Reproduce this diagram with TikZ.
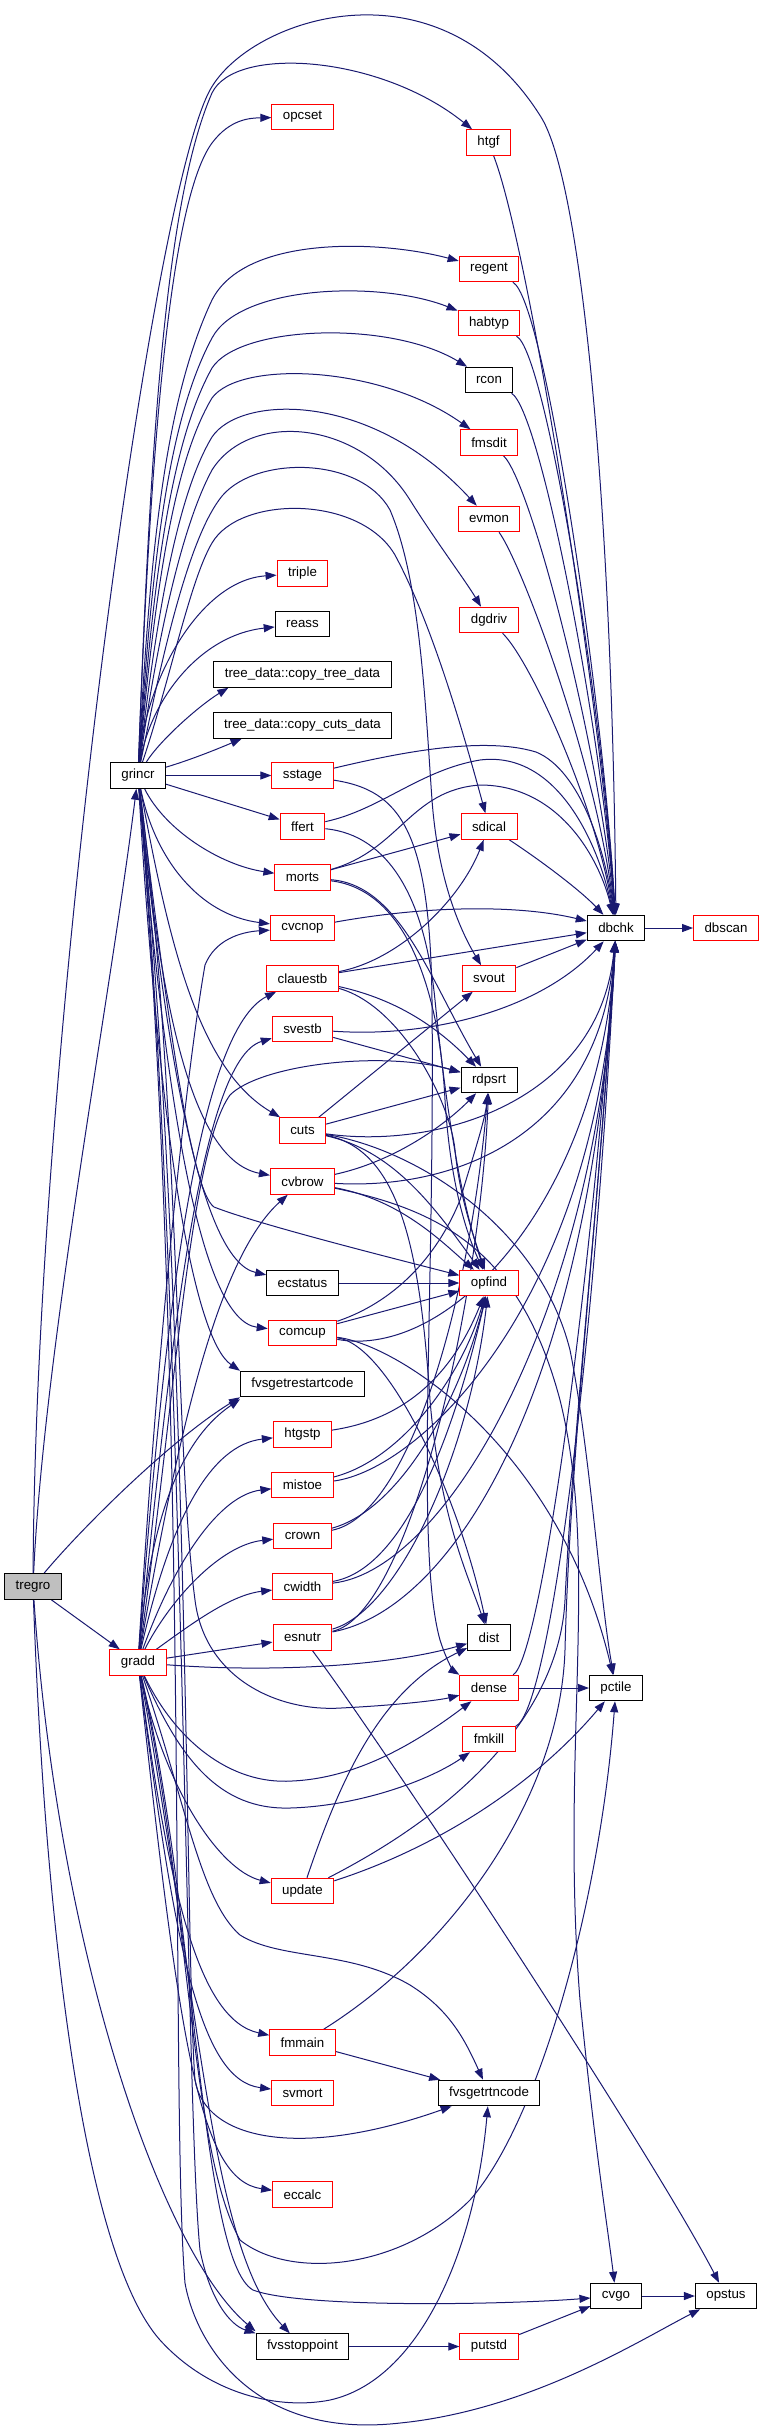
\documentclass[tikz,border=0pt]{standalone}
\usepackage{fontspec}
\setmainfont{Liberation Sans}
\usetikzlibrary{arrows.meta}
\definecolor{edgec}{RGB}{25,25,112}
\definecolor{boxgrey}{RGB}{191,191,191}
\pgfdeclarelayer{bg}
\pgfsetlayers{bg,main}
\tikzset{
  nb/.style={draw, line width=1pt, fill=white, minimum height=25.5pt, inner xsep=11pt, inner ysep=0pt, font=\fontsize{13.3}{15}\selectfont},
  rb/.style={nb, draw=red},
  kb/.style={nb, draw=black},
  e/.style={draw=edgec, line width=1pt, -{Triangle[length=11pt,width=8pt]}},
}
\begin{document}
\begin{tikzpicture}[x=1pt,y=-1pt]
\path[use as bounding box] (0,0) rectangle (760,2431);
% column 0/1
\node[kb, fill=boxgrey] (tregro) at (33,1586.5) {tregro};
\node[kb] (grincr) at (138,775.5) {grincr};
\node[rb] (gradd) at (138,1662.5) {gradd};
% column 2
\node[rb] (opcset) at (302.5,117) {opcset};
\node[rb] (triple) at (302.5,573.5) {triple};
\node[kb] (reass) at (302.5,624) {reass};
\node[kb] (ctd) at (302.5,674.5) {tree\_data::copy\_tree\_data};
\node[kb] (ccd) at (302.5,725.5) {tree\_data::copy\_cuts\_data};
\node[rb] (sstage) at (302.5,775.5) {sstage};
\node[rb] (ffert) at (302.5,826.5) {ffert};
\node[rb] (morts) at (302.5,877.5) {morts};
\node[rb] (cvcnop) at (302.5,928) {cvcnop};
\node[rb] (clauestb) at (302.5,978.5) {clauestb};
\node[rb] (svestb) at (302.5,1029) {svestb};
\node[rb] (cuts) at (302.5,1130.5) {cuts};
\node[rb] (cvbrow) at (302.5,1181.5) {cvbrow};
\node[kb] (ecstatus) at (302.5,1283) {ecstatus};
\node[rb] (comcup) at (302.5,1333) {comcup};
\node[kb] (fvsgrs) at (302.5,1384) {fvsgetrestartcode};
\node[rb] (htgstp) at (302.5,1434.5) {htgstp};
\node[rb] (mistoe) at (302.5,1485) {mistoe};
\node[rb] (crown) at (302.5,1536) {crown};
\node[rb] (cwidth) at (302.5,1586.5) {cwidth};
\node[rb] (esnutr) at (302.5,1637.5) {esnutr};
\node[rb] (update) at (302.5,1891) {update};
\node[rb] (fmmain) at (302.5,2042.5) {fmmain};
\node[rb] (svmort) at (302.5,2093) {svmort};
\node[rb] (eccalc) at (302.5,2194.5) {eccalc};
\node[kb] (fvsstop) at (302.5,2346.5) {fvsstoppoint};
% column 3
\node[rb] (htgf) at (488.5,142.5) {htgf};
\node[rb] (regent) at (489,269) {regent};
\node[rb] (habtyp) at (489,323) {habtyp};
\node[kb] (rcon) at (489,380) {rcon};
\node[rb] (fmsdit) at (489,442.5) {fmsdit};
\node[rb] (evmon) at (489,519) {evmon};
\node[rb] (dgdriv) at (489,620) {dgdriv};
\node[rb] (sdical) at (489,826.5) {sdical};
\node[rb] (svout) at (489,978.5) {svout};
\node[kb] (rdpsrt) at (489,1080) {rdpsrt};
\node[rb] (opfind) at (489,1283) {opfind};
\node[kb] (dist) at (489,1637.5) {dist};
\node[rb] (dense) at (489,1688) {dense};
\node[rb] (fmkill) at (489,1739) {fmkill};
\node[kb] (fvsrtn) at (489,2093) {fvsgetrtncode};
\node[rb] (putstd) at (489,2346.5) {putstd};
% column 4/5
\node[kb] (dbchk) at (616,928) {dbchk};
\node[kb] (pctile) at (616,1688) {pctile};
\node[kb] (cvgo) at (616,2296) {cvgo};
\node[rb] (dbscan) at (726,928) {dbscan};
\node[kb] (opstus) at (726,2296) {opstus};

\begin{pgfonlayer}{bg}
% tregro
\draw[e] (tregro) .. controls (44,1350) and (110,1000) .. (grincr);
\draw[e] (tregro) -- (gradd);
\draw[e] (tregro) .. controls (36,1050) and (150,200) .. (210,90) .. controls (250,17) and (440,-45) .. (541,117) .. controls (581,181) and (612,500) .. (dbchk);
\draw[e] (tregro) .. controls (80,1530) and (170,1440) .. (fvsgrs.south west);
\draw[e] (tregro) .. controls (44,1900) and (80,2250) .. (160,2340) .. controls (210,2395) and (280,2410) .. (330,2400) .. controls (420,2380) and (475,2250) .. (fvsrtn);
\draw[e] (tregro) .. controls (58,1950) and (160,2250) .. ([yshift=2pt]fvsstop.north west);
% grincr upward
\draw[e] (grincr) .. controls (150,450) and (170,200) .. (212,143) .. controls (230,119) and (250,118) .. (opcset);
\draw[e] (grincr) .. controls (150,450) and (165,200) .. (212,93) .. controls (235,45) and (380,55) .. (htgf);
\draw[e] (grincr) .. controls (150,550) and (165,400) .. (212,300) .. controls (245,235) and (380,240) .. (regent);
\draw[e] (grincr) .. controls (152,560) and (168,420) .. (212,338) .. controls (240,285) and (380,280) .. (habtyp);
\draw[e] (grincr) .. controls (154,570) and (172,440) .. (212,368) .. controls (240,325) and (390,320) .. (rcon);
\draw[e] (grincr) .. controls (156,580) and (175,460) .. (212,398) .. controls (240,360) and (380,365) .. (fmsdit);
\draw[e] (grincr) .. controls (158,600) and (180,490) .. (212,437) .. controls (240,395) and (370,390) .. (evmon);
\draw[e] (grincr) .. controls (160,620) and (185,520) .. (212,470) .. controls (250,410) and (360,420) .. (410,500) .. controls (435,540) and (465,580) .. (dgdriv);
\draw[e] (grincr) .. controls (165,640) and (190,540) .. (219,500) .. controls (250,455) and (360,455) .. (390,510) .. controls (420,580) and (425,700) .. (432,800) .. controls (438,880) and (460,930) .. (svout);
\draw[e] (grincr) .. controls (170,680) and (190,580) .. (212,543) .. controls (240,495) and (360,495) .. (395,555) .. controls (430,620) and (460,720) .. (sdical);
\draw[e] (grincr) .. controls (145,680) and (200,580) .. (triple);
\draw[e] (grincr) .. controls (150,700) and (200,635) .. (reass);
\draw[e] (grincr) .. controls (160,740) and (200,705) .. ([xshift=15pt]ctd.south west);
\draw[e] (grincr) .. controls (190,760) and (215,750) .. ([xshift=29pt]ccd.south west);
\draw[e] (grincr) -- (sstage);
\draw[e] (grincr) -- (ffert);
\draw[e] (grincr) .. controls (165,830) and (220,865) .. (morts);
\draw[e] (grincr) .. controls (155,860) and (200,915) .. (cvcnop);
\draw[e] (grincr) .. controls (170,950) and (200,1070) .. (cuts);
\draw[e] (grincr) .. controls (160,1000) and (190,1160) .. (cvbrow);
\draw[e] (grincr) .. controls (165,1050) and (200,1260) .. (ecstatus);
\draw[e] (grincr) .. controls (165,1100) and (200,1320) .. (comcup);
\draw[e] (grincr) .. controls (160,1150) and (195,1340) .. (fvsgrs.north west);
\draw[e] (grincr) .. controls (165,1000) and (190,1190) .. (214,1207) .. controls (260,1225) and (400,1260) .. (opfind);
\draw[e] (grincr) .. controls (180,1100) and (175,1450) .. (195,1600) .. controls (205,1680) and (280,1712) .. (341,1708) .. controls (400,1705) and (440,1700) .. (dense);
\draw[e] (grincr) .. controls (185,1300) and (185,2100) .. (200,2250) .. controls (210,2300) and (230,2325) .. (fvsstop.north west);
\draw[e] (grincr) .. controls (190,1300) and (185,1950) .. (195,2080) .. controls (205,2140) and (300,2160) .. (fvsrtn);
\draw[e] (grincr) .. controls (190,1400) and (170,2100) .. (185,2283) .. controls (195,2340) and (250,2440) .. (400,2423) .. controls (530,2410) and (640,2340) .. (opstus);
% gradd
\draw[e] (gradd) .. controls (160,1300) and (190,1050) .. (205,965) .. controls (215,940) and (240,932) .. (cvcnop);
\draw[e] (gradd) .. controls (165,1300) and (200,1030) .. (clauestb);
\draw[e] (gradd) .. controls (170,1350) and (200,1060) .. (svestb);
\draw[e] (gradd) .. controls (175,1400) and (190,1150) .. (230,1095) .. controls (260,1065) and (380,1050) .. (rdpsrt);
\draw[e] (gradd) .. controls (175,1450) and (215,1260) .. (cvbrow);
\draw[e] (gradd) .. controls (150,1520) and (180,1440) .. ([yshift=-2pt]fvsgrs.south west);
\draw[e] (gradd) .. controls (170,1520) and (210,1445) .. (htgstp);
\draw[e] (gradd) .. controls (175,1560) and (220,1495) .. (mistoe);
\draw[e] (gradd) .. controls (170,1600) and (220,1545) .. (crown);
\draw[e] (gradd) .. controls (190,1625) and (230,1595) .. (cwidth);
\draw[e] (gradd) -- (esnutr);
\draw[e] (gradd) .. controls (260,1672) and (380,1668) .. (dist);
\draw[e] (gradd) .. controls (175,1740) and (230,1785) .. (292,1781) .. controls (360,1778) and (420,1740) .. (dense);
\draw[e] (gradd) .. controls (180,1760) and (220,1810) .. (290,1808) .. controls (360,1806) and (430,1780) .. (fmkill);
\draw[e] (gradd) .. controls (165,1790) and (220,1870) .. (update);
\draw[e] (gradd) .. controls (170,1900) and (200,2020) .. (fmmain);
\draw[e] (gradd) .. controls (175,1950) and (200,2080) .. (svmort);
\draw[e] (gradd) .. controls (180,2050) and (200,2180) .. (eccalc);
\draw[e] (gradd) .. controls (185,1800) and (200,1900) .. (240,1935) .. controls (280,1960) and (350,1950) .. (410,1985) .. controls (450,2010) and (465,2040) .. (fvsrtn);
\draw[e] (gradd) .. controls (190,1900) and (190,2150) .. (240,2240) .. controls (290,2280) and (400,2270) .. (470,2200) .. controls (540,2120) and (600,1900) .. (pctile);
\draw[e] (gradd) .. controls (195,1900) and (200,2260) .. (253,2290) .. controls (300,2308) and (500,2305) .. (cvgo);
\draw[e] (gradd) .. controls (200,2000) and (210,2250) .. (fvsstop);
% column 2 -> right
\draw[e] (sstage) .. controls (390,755) and (480,735) .. (536,752) .. controls (580,770) and (605,850) .. (dbchk);
\draw[e] (sstage) .. controls (400,790) and (430,830) .. (432,1000) .. controls (435,1300) and (415,1550) .. (440,1640) .. controls (448,1665) and (455,1672) .. (dense.north west);
\draw[e] (ffert) .. controls (380,810) and (420,770) .. (480,760) .. controls (560,750) and (600,850) .. (dbchk);
\draw[e] (ffert) .. controls (390,835) and (425,900) .. (435,1000) .. controls (445,1100) and (460,1200) .. (opfind);
\draw[e] (morts) -- (sdical);
\draw[e] (morts) .. controls (400,850) and (410,790) .. (480,785) .. controls (560,785) and (600,860) .. (dbchk);
\draw[e] (morts) .. controls (400,885) and (430,980) .. (rdpsrt);
\draw[e] (morts) .. controls (410,890) and (440,1000) .. (445,1100) .. controls (450,1180) and (465,1230) .. (opfind);
\draw[e] (cvcnop) .. controls (430,905) and (520,905) .. (dbchk);
\draw[e] (clauestb) .. controls (400,960) and (460,900) .. (sdical);
\draw[e] (clauestb) -- (dbchk);
\draw[e] (clauestb) .. controls (400,1000) and (440,1030) .. (rdpsrt);
\draw[e] (clauestb) .. controls (400,1005) and (450,1100) .. (455,1150) .. controls (460,1200) and (475,1240) .. (opfind);
\draw[e] (svout) -- (dbchk);
\draw[e] (sdical) .. controls (540,860) and (580,890) .. (dbchk);
\draw[e] (svestb) .. controls (430,1038) and (540,1010) .. (dbchk);
\draw[e] (svestb) -- (rdpsrt);
\draw[e] (cuts) -- (svout);
\draw[e] (cuts) -- (rdpsrt);
\draw[e] (cuts) .. controls (440,1150) and (600,1100) .. (dbchk);
\draw[e] (cuts) .. controls (390,1150) and (430,1200) .. (opfind);
\draw[e] (cuts) .. controls (400,1150) and (420,1250) .. (430,1400) .. controls (440,1520) and (470,1580) .. (dist);
\draw[e] (cuts) .. controls (420,1150) and (540,1230) .. (570,1350) .. controls (590,1450) and (600,1600) .. (pctile);
\draw[e] (cvbrow) .. controls (400,1160) and (450,1120) .. (rdpsrt);
\draw[e] (cvbrow) .. controls (450,1190) and (600,1140) .. (dbchk);
\draw[e] (cvbrow) .. controls (400,1200) and (440,1240) .. (opfind);
\draw[e] (cvbrow) .. controls (440,1210) and (520,1250) .. (560,1400) .. controls (600,1560) and (560,1750) .. (580,2000) .. controls (595,2150) and (608,2230) .. (cvgo);
\draw[e] (ecstatus) -- (opfind);
\draw[e] (comcup) -- (opfind);
\draw[e] (comcup) .. controls (400,1300) and (440,1250) .. (460,1200) .. controls (475,1150) and (485,1120) .. (rdpsrt);
\draw[e] (comcup) .. controls (450,1360) and (600,1200) .. (dbchk);
\draw[e] (comcup) .. controls (390,1345) and (460,1500) .. (dist);
\draw[e] (comcup) .. controls (400,1345) and (560,1450) .. (pctile);
\draw[e] (htgstp) .. controls (400,1420) and (450,1380) .. (opfind);
\draw[e] (mistoe) .. controls (400,1460) and (460,1380) .. (opfind);
\draw[e] (mistoe) .. controls (420,1470) and (600,1300) .. (dbchk);
\draw[e] (crown) .. controls (400,1510) and (460,1400) .. (opfind);
\draw[e] (crown) .. controls (410,1515) and (470,1300) .. (rdpsrt);
\draw[e] (cwidth) .. controls (400,1570) and (450,1450) .. (opfind);
\draw[e] (cwidth) .. controls (450,1570) and (600,1300) .. (dbchk);
\draw[e] (esnutr) .. controls (400,1610) and (470,1450) .. (opfind);
\draw[e] (esnutr) .. controls (410,1615) and (480,1300) .. (rdpsrt);
\draw[e] (esnutr) .. controls (450,1610) and (590,1400) .. (dbchk);
\draw[e] (esnutr) .. controls (380,1740) and (650,2150) .. (opstus);
\draw[e] (update) .. controls (340,1780) and (380,1690) .. (dist);
\draw[e] (update) .. controls (430,1850) and (530,1790) .. (pctile);
\draw[e] (update) .. controls (480,1800) and (560,1700) .. (565,1600) .. controls (575,1400) and (600,1200) .. (dbchk);
\draw[e] (fmmain) -- (fvsrtn);
\draw[e] (fmmain) .. controls (450,1950) and (560,1800) .. (565,1650) .. controls (570,1450) and (600,1200) .. (dbchk);
% column 3 -> right
\draw[e] (htgf) .. controls (530,250) and (600,700) .. (dbchk);
\draw[e] (regent) .. controls (545,300) and (603,700) .. (dbchk);
\draw[e] (habtyp) .. controls (545,350) and (602,700) .. (dbchk);
\draw[e] (rcon) .. controls (540,410) and (600,720) .. (dbchk);
\draw[e] (fmsdit) .. controls (530,480) and (598,740) .. (dbchk);
\draw[e] (evmon) .. controls (520,560) and (596,760) .. (dbchk);
\draw[e] (dgdriv) .. controls (530,660) and (594,800) .. (dbchk);
\draw[e] (dense) -- (pctile);
\draw[e] (dense) .. controls (540,1660) and (590,1300) .. (dbchk);
\draw[e] (fmkill) .. controls (550,1710) and (595,1350) .. (dbchk);
\draw[e] (fvsstop) -- (putstd);
\draw[e] (putstd) -- (cvgo);
\draw[e] (cvgo) -- (opstus);
\draw[e] (dbchk) -- (dbscan);
\end{pgfonlayer}
\end{tikzpicture}
\end{document}
